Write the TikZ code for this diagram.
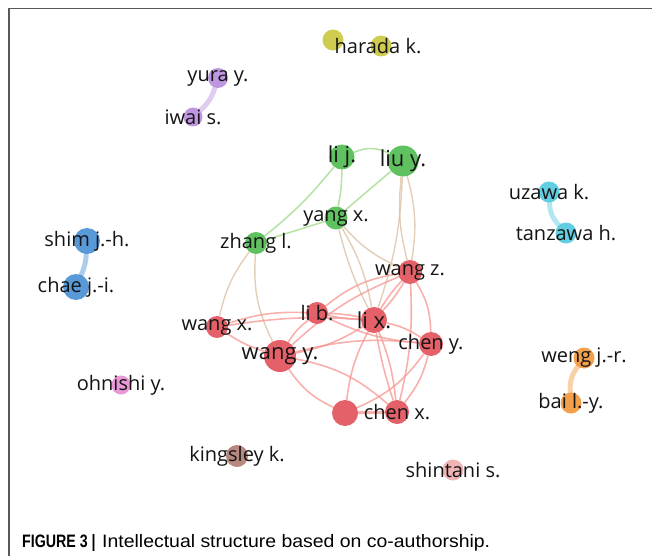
\documentclass[tikz,border=0pt]{standalone}
\usepackage{fontspec}
\setmainfont{Open Sans}
\newfontfamily\capfont{Liberation Sans}
\usetikzlibrary{backgrounds}
\definecolor{cred}{RGB}{226,84,92}
\definecolor{cgreen}{RGB}{82,188,82}
\definecolor{cblue}{RGB}{74,144,212}
\definecolor{cyellow}{RGB}{204,200,64}
\definecolor{cpurple}{RGB}{186,142,222}
\definecolor{ccyan}{RGB}{84,202,222}
\definecolor{corange}{RGB}{242,152,62}
\definecolor{cpink}{RGB}{232,142,214}
\definecolor{cbrown}{RGB}{176,126,116}
\definecolor{clight}{RGB}{240,172,172}
\definecolor{lred}{RGB}{246,150,146}
\definecolor{lgreen}{RGB}{172,222,152}
\definecolor{lmix}{RGB}{218,190,160}
\tikzstyle{author}=[circle,inner sep=0pt,minimum size=22pt,fill opacity=0.92,text opacity=1]
\tikzstyle{lbl}=[font=\fontsize{20}{20}\selectfont,text=black!92,inner sep=0pt]
\tikzstyle{lblbig}=[font=\fontsize{22}{22}\selectfont,text=black!92,inner sep=0pt]
\tikzstyle{redge}=[line width=1.6pt,draw=lred,opacity=0.75]
\tikzstyle{gedge}=[line width=1.6pt,draw=lgreen,opacity=0.85]
\tikzstyle{medge}=[line width=1.4pt,draw=lmix,opacity=0.75]
\tikzstyle{pair}=[line width=5pt,opacity=0.45,line cap=round]

\begin{document}
\begin{tikzpicture}[x=1pt,y=-1pt]
\useasboundingbox (0,0) rectangle (652,556);
\draw[line width=1.5pt,black!65] (652,8.5) -- (9,8.5) -- (9,556);
% small clusters
\node[author,fill=cyellow,minimum size=21pt] at (333,40) (hk2) {};
\node[author,fill=cyellow,minimum size=21pt,label={[lbl,xshift=-3pt]center:harada k.}] at (381,46) (hk) {};
\node[author,fill=cpurple,minimum size=20pt,label={[lbl]center:yura y.}] at (218,78) (yy) {};
\node[author,fill=cpurple,minimum size=19pt,label={[lbl]center:iwai s.}] at (193,117) (is) {};
\node[author,fill=cblue,minimum size=26pt,label={[lbl]center:shim j.-h.}] at (87,241) (sj) {};
\node[author,fill=cblue,minimum size=26pt,label={[lbl]center:chae j.-i.}] at (76,287) (cj) {};
\node[author,fill=ccyan,minimum size=21pt,label={[lbl]center:uzawa k.}] at (549,192) (uk) {};
\node[author,fill=ccyan,minimum size=21pt,label={[lbl]center:tanzawa h.}] at (566,233) (th) {};
\node[author,fill=corange,minimum size=21pt,label={[lbl]center:weng j.-r.}] at (584,358) (wj) {};
\node[author,fill=corange,minimum size=21pt,label={[lbl]center:bai l.-y.}] at (571,403) (bl) {};
\node[author,fill=cpink,minimum size=19pt,label={[lbl]center:ohnishi y.}] at (121,385) (oy) {};
\node[author,fill=cbrown,minimum size=22pt,label={[lbl]center:kingsley k.}] at (237,456) (kk) {};
\node[author,fill=clight,minimum size=21pt,label={[lbl]center:shintani s.}] at (453,470) (ss) {};
% green cluster
\node[author,fill=cgreen,minimum size=25pt,label={[lblbig]center:li j.}] at (342,157) (lj) {};
\node[author,fill=cgreen,minimum size=31pt,label={[lblbig]center:liu y.}] at (403,161) (ly) {};
\node[author,fill=cgreen,minimum size=23pt,label={[lbl]center:yang x.}] at (336,218) (yx) {};
\node[author,fill=cgreen,minimum size=22pt,label={[lbl]center:zhang l.}] at (256,243) (zl) {};
% red cluster
\node[author,fill=cred,minimum size=24pt,label={[lbl]center:wang z.}] at (410,272) (wz) {};
\node[author,fill=cred,minimum size=22pt,label={[lbl]center:wang x.}] at (217,327) (wx) {};
\node[author,fill=cred,minimum size=22pt,label={[lbl]center:li b.}] at (317,313) (lb) {};
\node[author,fill=cred,minimum size=26pt,label={[lblbig]center:li x.}] at (374,320) (lx) {};
\node[author,fill=cred,minimum size=24pt,label={[lbl]center:chen y.}] at (431,344) (cy) {};
\node[author,fill=cred,minimum size=32pt,label={[lblbig]center:wang y.}] at (280,356) (wy) {};
\node[author,fill=cred,minimum size=26pt] at (345,413) (rq) {};
\node[author,fill=cred,minimum size=24pt,label={[lbl]center:chen x.}] at (397,412) (cx) {};
% caption
\node[anchor=base west,inner sep=0pt,font=\capfont\fontsize{18}{18}\selectfont] at (22,547) (fig)
  {\scalebox{0.79}[1]{\textbf{FIGURE 3 |}}};
\node[anchor=base west,inner sep=0pt,font=\capfont\fontsize{18}{18}\selectfont] at (102,547) (cap)
  {\scalebox{1.08}[1]{Intellectual structure based on co-authorship.}};
\begin{scope}[on background layer]
\draw[pair,draw=cpurple] (yy) to[bend left=15] (is);
\draw[pair,draw=cblue] (sj) to[bend left=10] (cj);
\draw[pair,draw=ccyan] (uk) to[bend right=20] (th);
\draw[pair,draw=corange] (wj) to[bend right=20] (bl);
\draw[gedge] (lj) to[bend left=25] (ly);
\draw[gedge] (lj) to[bend left=5] (yx);
\draw[gedge] (lj) to[bend left=6] (zl);
\draw[gedge] (ly) -- (yx);
\draw[gedge] (yx) -- (zl);
\draw[medge] (zl) to[bend right=12] (wx);
\draw[medge] (zl) to[bend right=15] (wy);
\draw[medge] (ly) to[bend left=12] (wz);
\draw[medge] (ly) to[bend right=10] (wz);
\draw[medge] (ly) to[bend left=8] (lx);
\draw[medge] (yx) to[bend right=12] (wz);
\draw[medge] (yx) to[bend right=6] (lx);
\draw[medge] (yx) to[bend left=10] (lx);
\draw[redge] (wz) to[bend right=15] (lb);
\draw[redge] (wz) to[bend left=6] (lx);
\draw[redge] (wz) to[bend right=6] (lx);
\draw[redge] (wz) to[bend left=15] (cy);
\draw[redge] (wz) to[bend right=10] (wy);
\draw[redge] (wz) to[bend left=8] (cx);
\draw[redge] (lb) to[bend left=5] (lx);
\draw[redge] (lb) to[bend right=5] (lx);
\draw[redge] (lb) to[bend right=10] (wy);
\draw[redge] (lb) to[bend right=10] (wx);
\draw[redge] (lb) to[bend right=10] (cy);
\draw[redge] (lx) to[bend left=10] (cy);
\draw[redge] (lx) to[bend left=10] (wy);
\draw[redge] (lx) to[bend right=10] (rq);
\draw[redge] (lx) to[bend left=8] (cx);
\draw[redge] (lx) to[bend right=4] (cx);
\draw[redge] (wx) to[bend right=8] (wy);
\draw[redge] (wx) to[bend left=6] (lx);
\draw[redge] (wy) to[bend left=15] (cx);
\draw[redge] (wy) to[bend right=15] (rq);
\draw[redge] (wy) to[bend left=10] (cy);
\draw[redge] (cy) to[bend left=12] (cx);
\draw[redge] (cy) to[bend left=15] (rq);
\draw[redge,line width=3pt] (rq) -- (cx);
\end{scope}
\end{tikzpicture}
\end{document}
